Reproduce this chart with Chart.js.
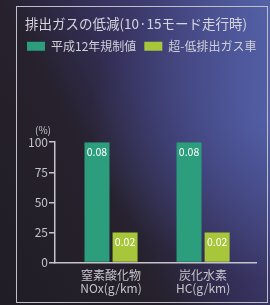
<!DOCTYPE html>
<html>
<head>
<meta charset="utf-8">
<script src="https://cdn.jsdelivr.net/npm/chart.js@4"></script>
<style>
html,body{margin:0;padding:0;}
body{width:270px;height:305px;overflow:hidden;position:relative;
background:
 radial-gradient(ellipse 180px 160px at 270px 120px, rgba(90,110,190,0.55), rgba(90,110,190,0) 100%),
 linear-gradient(62deg,#211d26 0%,#26212c 38%,#35305a 58%,#43437c 78%,#5360a4 100%);}
#frame{position:absolute;left:16px;top:6px;width:252px;height:297px;border:1.5px solid #bfbfc8;box-sizing:border-box;}
canvas{position:absolute;left:0;top:0;}
</style>
</head>
<body>
<div id="frame"></div>
<canvas id="c" width="270" height="305"></canvas>
<script>
const titleText = '排出ガスの低減(10·15モード走行時)';
const seriesNames = ['平成12年規制値', '超-低排出ガス車'];
const categories = [['窒素酸化物', 'NOx(g/km)'], ['炭化水素', 'HC(g/km)']];
const regulation = [100, 100];
const lowEmission = [25, 25];
const regulationLabels = ['0.08', '0.08'];
const lowEmissionLabels = ['0.02', '0.02'];
const yTicks = [0, 25, 50, 75, 100];
const yUnit = '(%)';

const FONT = '"Noto Sans CJK JP", "Noto Sans", sans-serif';
const GRAY = '#c4c4cc';

const valueLabels = {
  id: 'valueLabels',
  afterDatasetsDraw(chart) {
    const ctx = chart.ctx;
    const lists = [regulationLabels, lowEmissionLabels];
    ctx.save();
    ctx.font = '10.5px ' + FONT;
    ctx.fillStyle = '#ffffff';
    ctx.textAlign = 'center';
    ctx.textBaseline = 'middle';
    chart.data.datasets.forEach((ds, di) => {
      chart.getDatasetMeta(di).data.forEach((bar, i) => {
        ctx.fillText(lists[di][i], bar.x, bar.y + 10);
      });
    });
    ctx.restore();
  }
};

const unitLabel = {
  id: 'unitLabel',
  afterDraw(chart) {
    const ctx = chart.ctx;
    const y = chart.scales.y;
    ctx.save();
    ctx.font = '10px ' + FONT;
    ctx.fillStyle = GRAY;
    ctx.textAlign = 'center';
    ctx.textBaseline = 'middle';
    ctx.fillText(yUnit, y.right - 12, chart.chartArea.top - 12);
    ctx.restore();
  }
};

const legendSpace = {
  id: 'legendSpace',
  afterInit(chart) {
    const lg = chart.legend;
    const origFit = lg.fit.bind(lg);
    lg.fit = function () { this.maxWidth = 270; origFit(); this.height += 80; };
    const origDraw = lg.draw.bind(lg);
    lg.draw = function () {
      const ctx = chart.ctx;
      const r = this.right;
      this.right = 290;
      ctx.save(); ctx.translate(-6, 0); origDraw(); ctx.restore();
      this.right = r;
    };
  }
};

new Chart(document.getElementById('c'), {
  type: 'bar',
  data: {
    datasets: [
      { label: seriesNames[0], data: regulation.map((v, i) => ({ x: i, y: v })), backgroundColor: '#2c9d7d' },
      { label: seriesNames[1], data: lowEmission.map((v, i) => ({ x: i, y: v })), backgroundColor: '#a8c63a' }
    ]
  },
  plugins: [valueLabels, unitLabel, legendSpace],
  options: {
    responsive: false,
    animation: false,
    devicePixelRatio: 1,
    layout: { padding: { left: 25, right: 14, top: 10, bottom: 4 } },
    datasets: { bar: { categoryPercentage: 0.61, barPercentage: 0.89 } },
    plugins: {
      title: {
        display: true, text: titleText, align: 'start', color: '#d6d6de',
        font: { family: FONT, size: 13.5, weight: 'normal' }, padding: { top: 6, bottom: 0 }
      },
      legend: {
        display: true, align: 'start',
        labels: { boxWidth: 18, boxHeight: 9, padding: 8, color: '#d0d0d8',
          font: { family: FONT, size: 12 } }
      },
      tooltip: { enabled: false }
    },
    scales: {
      x: {
        type: 'linear', min: -0.6087, max: 1.575, offset: false,
        afterBuildTicks(scale) { scale.ticks = categories.map((c, i) => ({ value: i })); },
        ticks: { color: GRAY, font: { family: FONT, size: 12, lineHeight: 1.1 }, padding: 6,
          maxRotation: 0, autoSkip: false,
          callback: (v) => categories[v] },
        grid: { display: false, drawTicks: false, offset: false },
        border: { display: true, color: GRAY, width: 1.5 }
      },
      y: {
        min: 0, max: 100,
        afterBuildTicks(scale) { scale.ticks = yTicks.map(v => ({ value: v })); },
        afterFit(scale) { scale.width = 30; },
        ticks: { color: GRAY, font: { family: FONT, size: 12 }, padding: 1 },
        grid: { drawOnChartArea: false, drawTicks: true, tickLength: 6, color: GRAY, lineWidth: 1.5 },
        border: { display: true, color: GRAY, width: 1.5 }
      }
    }
  }
});
</script>
</body>
</html>
